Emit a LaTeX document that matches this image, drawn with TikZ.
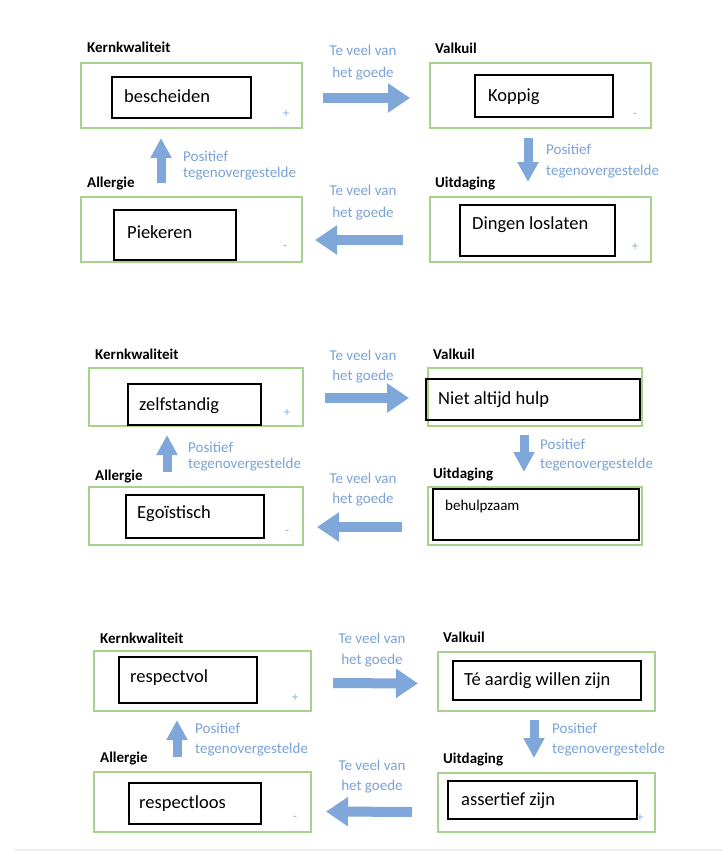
\documentclass[tikz,border=0pt]{standalone}
\usepackage{fontspec}
\setmainfont{Carlito}
\usetikzlibrary{arrows.meta}
\definecolor{gbox}{RGB}{169,209,142}
\definecolor{ablue}{RGB}{128,167,217}
\definecolor{tblue}{RGB}{122,162,214}
\tikzset{
  greenbox/.style={draw=gbox, line width=1.3pt, inner sep=0pt, outer sep=0pt, anchor=north west},
  innerbox/.style={draw=black, line width=1.1pt, inner sep=0pt, outer sep=0pt, anchor=north west},
  headlbl/.style={font=\bfseries\fontsize{15}{18}\selectfont, anchor=base west, inner sep=0pt},
  itext/.style={font=\fontsize{18.5}{22}\selectfont, anchor=base west, inner sep=0pt},
  btext/.style={text=tblue, font=\fontsize{15}{18}\selectfont, inner sep=0pt, anchor=base},
  btextl/.style={btext, anchor=base west},
  signlbl/.style={text=tblue!85, font=\fontsize{13}{14}\selectfont, inner sep=0pt},
  harrow/.style={draw=ablue, line width=10pt, -{Triangle[length=22pt, width=28pt]}},
  varrow/.style={draw=ablue, line width=9pt, -{Triangle[length=20pt, width=20pt]}}
}
\begin{document}
\begin{tikzpicture}[x=1pt, y=-1pt]
\useasboundingbox[fill=white] (0,0) rectangle (722,852);

% ---------------- Block 1 ----------------
\node[headlbl] (h1a) at (87,52) {Kernkwaliteit};
\node[headlbl] (h1b) at (87,187) {Allergie};
\node[headlbl] (h1c) at (435,53) {Valkuil};
\node[headlbl] (h1d) at (435,187) {Uitdaging};
\node[greenbox, minimum width=221pt, minimum height=65pt] (kk1) at (81,63) {};
\node[greenbox, minimum width=221pt, minimum height=65pt] (al1) at (81,197) {};
\node[greenbox, minimum width=221pt, minimum height=65pt] (vk1) at (430,63) {};
\node[greenbox, minimum width=221pt, minimum height=65pt] (ui1) at (430,197) {};
\node[innerbox, minimum width=139pt, minimum height=41pt] (in1a) at (112,77) {};
\node[innerbox, minimum width=122pt, minimum height=50pt] (in1b) at (114,210) {};
\node[innerbox, minimum width=138pt, minimum height=42pt] (in1c) at (475,75) {};
\node[innerbox, minimum width=155pt, minimum height=51pt] (in1d) at (460,205) {};
\node[itext] (t1a) at (124,102) {bescheiden};
\node[itext] (t1b) at (127,238) {Piekeren};
\node[itext] (t1c) at (488,101) {Koppig};
\node[itext] (t1d) at (472,229) {Dingen loslaten};
\node[signlbl] (s1a) at (286,114) {+};
\node[signlbl] (s1b) at (285,247) {-};
\node[signlbl] (s1c) at (635,115) {-};
\node[signlbl] (s1d) at (635,247) {+};
\node[btext] (b1a) at (363,55) {Te veel van};
\node[btext] (b1b) at (363,77) {het goede};
\node[btext] (b1c) at (363,195) {Te veel van};
\node[btext] (b1d) at (363,217) {het goede};
\node[btextl] (p1a) at (183,161) {Positief};
\node[btextl] (p1b) at (183,177) {tegenovergestelde};
\node[btextl] (p1c) at (546,154) {Positief};
\node[btextl] (p1d) at (546,175) {tegenovergestelde};
\draw[harrow, shorten <=21pt, shorten >=20pt] ([yshift=-2.5pt]kk1.east) -- ([yshift=-2.5pt]vk1.west);
\draw[harrow, shorten <=27pt, shorten >=13pt] ([yshift=-10.5pt]ui1.west) -- ([yshift=-10.5pt]al1.east);
\draw[varrow, shorten <=14pt, shorten >=10pt] ([xshift=-30.5pt]al1.north) -- ([xshift=-30.5pt]kk1.south);
\draw[varrow, shorten <=10pt, shorten >=15pt] ([xshift=-12.5pt]vk1.south) -- ([xshift=-12.5pt]ui1.north);

% ---------------- Block 2 ----------------
\node[headlbl] (h2a) at (95,359) {Kernkwaliteit};
\node[headlbl] (h2b) at (95,480) {Allergie};
\node[headlbl] (h2c) at (433,359) {Valkuil};
\node[headlbl] (h2d) at (433,478) {Uitdaging};
\node[greenbox, minimum width=214pt, minimum height=58pt] (kk2) at (89,368) {};
\node[greenbox, minimum width=214pt, minimum height=58pt] (al2) at (89,487) {};
\node[greenbox, minimum width=214pt, minimum height=58pt] (vk2) at (428,368) {};
\node[greenbox, minimum width=214pt, minimum height=58pt] (ui2) at (428,487) {};
\node[innerbox, minimum width=133pt, minimum height=41pt] (in2a) at (128,384) {};
\node[innerbox, minimum width=138pt, minimum height=43pt] (in2b) at (126,495) {};
\node[innerbox, minimum width=214pt, minimum height=41pt] (in2c) at (426,379) {};
\node[innerbox, minimum width=206pt, minimum height=51pt] (in2d) at (433,489) {};
\node[itext] (t2a) at (139,410) {zelfstandig};
\node[itext] (t2b) at (137,518) {Egoïstisch};
\node[itext] (t2c) at (438,404) {Niet altijd hulp};
\node[itext, font=\fontsize{15}{18}\selectfont] (t2d) at (445,510) {behulpzaam};
\node[signlbl] (s2a) at (287,413) {+};
\node[signlbl] (s2b) at (287,532) {-};
\node[btext] (b2a) at (363,360) {Te veel van};
\node[btext] (b2b) at (363,380) {het goede};
\node[btext] (b2c) at (363,483) {Te veel van};
\node[btext] (b2d) at (363,503) {het goede};
\node[btextl] (p2a) at (188,452) {Positief};
\node[btextl] (p2b) at (188,468) {tegenovergestelde};
\node[btextl] (p2c) at (540,449) {Positief};
\node[btextl] (p2d) at (540,468) {tegenovergestelde};
\draw[harrow, shorten <=22pt, shorten >=19pt] ([yshift=-1pt]kk2.east) -- ([yshift=-1pt]vk2.west);
\draw[harrow, shorten <=26pt, shorten >=14pt] ([yshift=-11pt]ui2.west) -- ([yshift=-11pt]al2.east);
\draw[varrow, shorten <=15pt, shorten >=9pt] ([xshift=-29pt]al2.north) -- ([xshift=-29pt]kk2.south);
\draw[varrow, shorten <=9pt, shorten >=15pt] ([xshift=-11pt]vk2.south) -- ([xshift=-11pt]ui2.north);

% ---------------- Block 3 ----------------
\node[headlbl] (h3a) at (100,643) {Kernkwaliteit};
\node[headlbl] (h3b) at (100,762) {Allergie};
\node[headlbl] (h3c) at (443,642) {Valkuil};
\node[headlbl] (h3d) at (443,763) {Uitdaging};
\node[greenbox, minimum width=217pt, minimum height=60pt] (kk3) at (94,651) {};
\node[greenbox, minimum width=217pt, minimum height=60pt] (al3) at (94,772) {};
\node[greenbox, minimum width=217pt, minimum height=59pt] (vk3) at (438,652) {};
\node[greenbox, minimum width=217pt, minimum height=59pt] (ui3) at (438,773) {};
\node[innerbox, minimum width=138pt, minimum height=46pt] (in3a) at (119,657) {};
\node[innerbox, minimum width=132pt, minimum height=41pt] (in3b) at (129,783) {};
\node[innerbox, minimum width=188pt, minimum height=39pt] (in3c) at (453,661) {};
\node[innerbox, minimum width=189pt, minimum height=38pt] (in3d) at (448,781) {};
\node[itext] (t3a) at (130,682) {respectvol};
\node[itext] (t3b) at (139,808) {respectloos};
\node[itext] (t3c) at (464,685) {Té aardig willen zijn};
\node[itext] (t3d) at (461,805) {assertief zijn};
\node[signlbl] (s3a) at (295,698) {+};
\node[signlbl] (s3b) at (295,818) {-};
\node[signlbl] (s3d) at (640,818) {+};
\node[btext] (b3a) at (372,643) {Te veel van};
\node[btext] (b3b) at (372,664) {het goede};
\node[btext] (b3c) at (372,770) {Te veel van};
\node[btext] (b3d) at (372,790) {het goede};
\node[btextl] (p3a) at (195,733) {Positief};
\node[btextl] (p3b) at (195,753) {tegenovergestelde};
\node[btextl] (p3c) at (552,733) {Positief};
\node[btextl] (p3d) at (552,753) {tegenovergestelde};
\draw[harrow, shorten <=22pt, shorten >=20pt] ([yshift=-2pt]kk3.east) -- ([yshift=-2pt]vk3.west);
\draw[harrow, shorten <=26pt, shorten >=15pt] ([yshift=-9.5pt]ui3.west) -- ([yshift=-9.5pt]al3.east);
\draw[varrow, shorten <=15pt, shorten >=9pt] ([xshift=-25.5pt]al3.north) -- ([xshift=-25.5pt]kk3.south);
\draw[varrow, shorten <=9pt, shorten >=15pt] ([xshift=-12.5pt]vk3.south) -- ([xshift=-12.5pt]ui3.north);

% faint rule at the bottom
\coordinate (r1) at (15,850);
\coordinate (r2) at (722,850);
\draw[black!7, line width=2pt] (r1) -- (r2);
\end{tikzpicture}
\end{document}
